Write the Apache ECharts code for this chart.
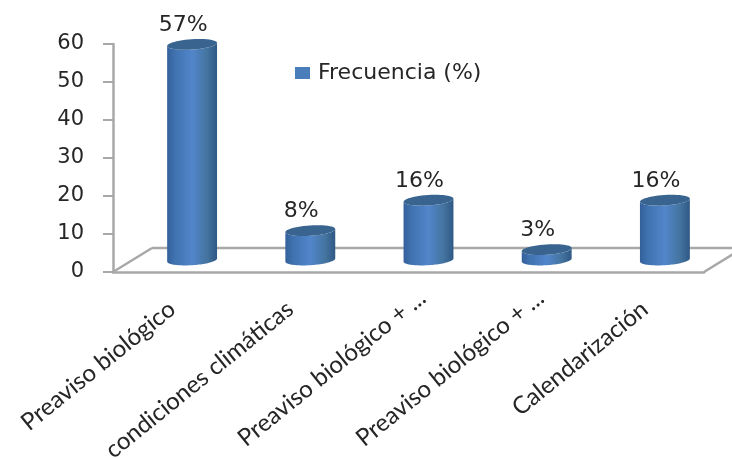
<!DOCTYPE html>
<html>
<head>
<meta charset="utf-8">
<style>html,body{margin:0;padding:0;background:#fff}#chart{width:732px;height:459px}</style>
<script src="https://cdn.jsdelivr.net/npm/echarts@6/dist/echarts.min.js"></script>
</head>
<body>
<div id="chart"></div>
<script>
const categories = ['Preaviso biológico', 'condiciones climáticas', 'Preaviso biológico + ...', 'Preaviso biológico + ...', 'Calendarización'];
const frecuencia = [57, 8, 16, 3, 16];
const seriesName = 'Frecuencia (%)';
const yTicks = { min: 0, max: 60, interval: 10 };

const axisGray = '#a8a8a8';
const textColor = '#262626';
const displayFont = '"DejaVu Sans", sans-serif';
const labelFont = 'Lato, sans-serif';

// Oblique floor depth and the cylinder placement inside it
const floorDepthX = 39, floorDepthY = 24;
const cylOffsetX = 20, cylLift = 11, baseLift = 12, cylRx = 25, cylRy = 5.2, cylTilt = -0.065;

function ellipsePoint(cx, cy, a) {
  const x = cylRx * Math.cos(a), y = cylRy * Math.sin(a);
  return [cx + x * Math.cos(cylTilt) - y * Math.sin(cylTilt), cy + x * Math.sin(cylTilt) + y * Math.cos(cylTilt)];
}
function arc(cx, cy, from, to) {
  const pts = [];
  for (let k = 0; k <= 48; k++) pts.push(ellipsePoint(cx, cy, from + (to - from) * k / 48));
  return pts;
}
const sideFill = {
  type: 'linear', x: 0, y: 0, x2: 1, y2: 0,
  colorStops: [
    { offset: 0, color: '#33609a' }, { offset: 0.14, color: '#3f71ae' },
    { offset: 0.5, color: '#5186cb' }, { offset: 0.8, color: '#44749f' }, { offset: 1, color: '#2f5885' }
  ]
};

function renderCylinder(params, api) {
  const i = api.value(0), v = api.value(1);
  const top = api.coord([i, v]);
  const base = api.coord([i, 0]);
  const cx = top[0] + cylOffsetX, topY = top[1] - cylLift, baseY = base[1] - baseLift;
  const side = arc(cx, baseY, Math.PI, 0).concat(arc(cx, topY, 0, Math.PI)).reverse();
  return {
    type: 'group',
    children: [
      { type: 'polygon', shape: { points: side }, style: { fill: sideFill } },
      { type: 'polygon', shape: { points: arc(cx, topY, 0, Math.PI * 2) }, style: { fill: '#39648f' } },
      { type: 'text', x: cx - 9, y: topY - 19,
        style: { text: v + '%', font: '22px ' + displayFont, fill: textColor, align: 'center', verticalAlign: 'middle' } }
    ]
  };
}

// Back edge of the floor and its two receding sides
function renderFloor(params, api) {
  if (params.dataIndex !== 0) return null;
  const g = params.coordSys;
  const left = g.x, right = g.x + g.width, y0 = g.y + g.height;
  const line = (x1, y1, x2, y2) => ({
    type: 'line', shape: { x1, y1, x2, y2 }, style: { stroke: axisGray, lineWidth: 2.5 }
  });
  return {
    type: 'group',
    children: [
      line(left, y0, left + floorDepthX, y0 - floorDepthY),
      line(left + floorDepthX, y0 - floorDepthY, right + floorDepthX, y0 - floorDepthY),
      line(right, y0, right + floorDepthX, y0 - floorDepthY)
    ]
  };
}

// The truncated labels sit further along their slant than the others
const categoryData = categories.map((name) => (
  name.endsWith('...') ? { value: name, textStyle: { padding: [0, -18, 0, 0] } } : name
));

const chart = echarts.init(document.getElementById('chart'), null, { renderer: 'canvas' });
chart.setOption({
  animation: false,
  backgroundColor: '#fff',
  grid: { left: 113, right: 28, top: 44, bottom: 187, containLabel: false, outerBoundsMode: 'none' },
  legend: {
    left: 290, top: 57, itemWidth: 15, itemHeight: 12, itemGap: 0,
    data: [{ name: seriesName, icon: 'rect', itemStyle: { color: '#4a7ebb' } }],
    textStyle: { fontFamily: displayFont, fontSize: 22, color: textColor, padding: [0, 0, 0, 3] }
  },
  xAxis: {
    type: 'category',
    data: categoryData,
    axisLine: { lineStyle: { color: axisGray, width: 2.5 } },
    axisTick: { length: 9, lineStyle: { color: axisGray, width: 2 } },
    axisLabel: { interval: 0, rotate: 39, margin: 34, fontFamily: labelFont, fontSize: 24, color: textColor }
  },
  yAxis: {
    type: 'value',
    min: yTicks.min, max: yTicks.max, interval: yTicks.interval,
    splitLine: { show: false },
    axisLine: { show: true, lineStyle: { color: axisGray, width: 2.5 } },
    axisTick: { show: true, length: 10, lineStyle: { color: axisGray, width: 2 } },
    axisLabel: { margin: 29, fontFamily: displayFont, fontSize: 21, color: textColor }
  },
  series: [
    { type: 'custom', name: 'floor', silent: true, z: 1, renderItem: renderFloor, data: frecuencia.map((v, i) => [i, 0]), encode: { x: 0, y: 1 } },
    { type: 'custom', name: seriesName, z: 3, renderItem: renderCylinder, data: frecuencia.map((v, i) => [i, v]), encode: { x: 0, y: 1 } }
  ]
});
</script>
</body>
</html>
